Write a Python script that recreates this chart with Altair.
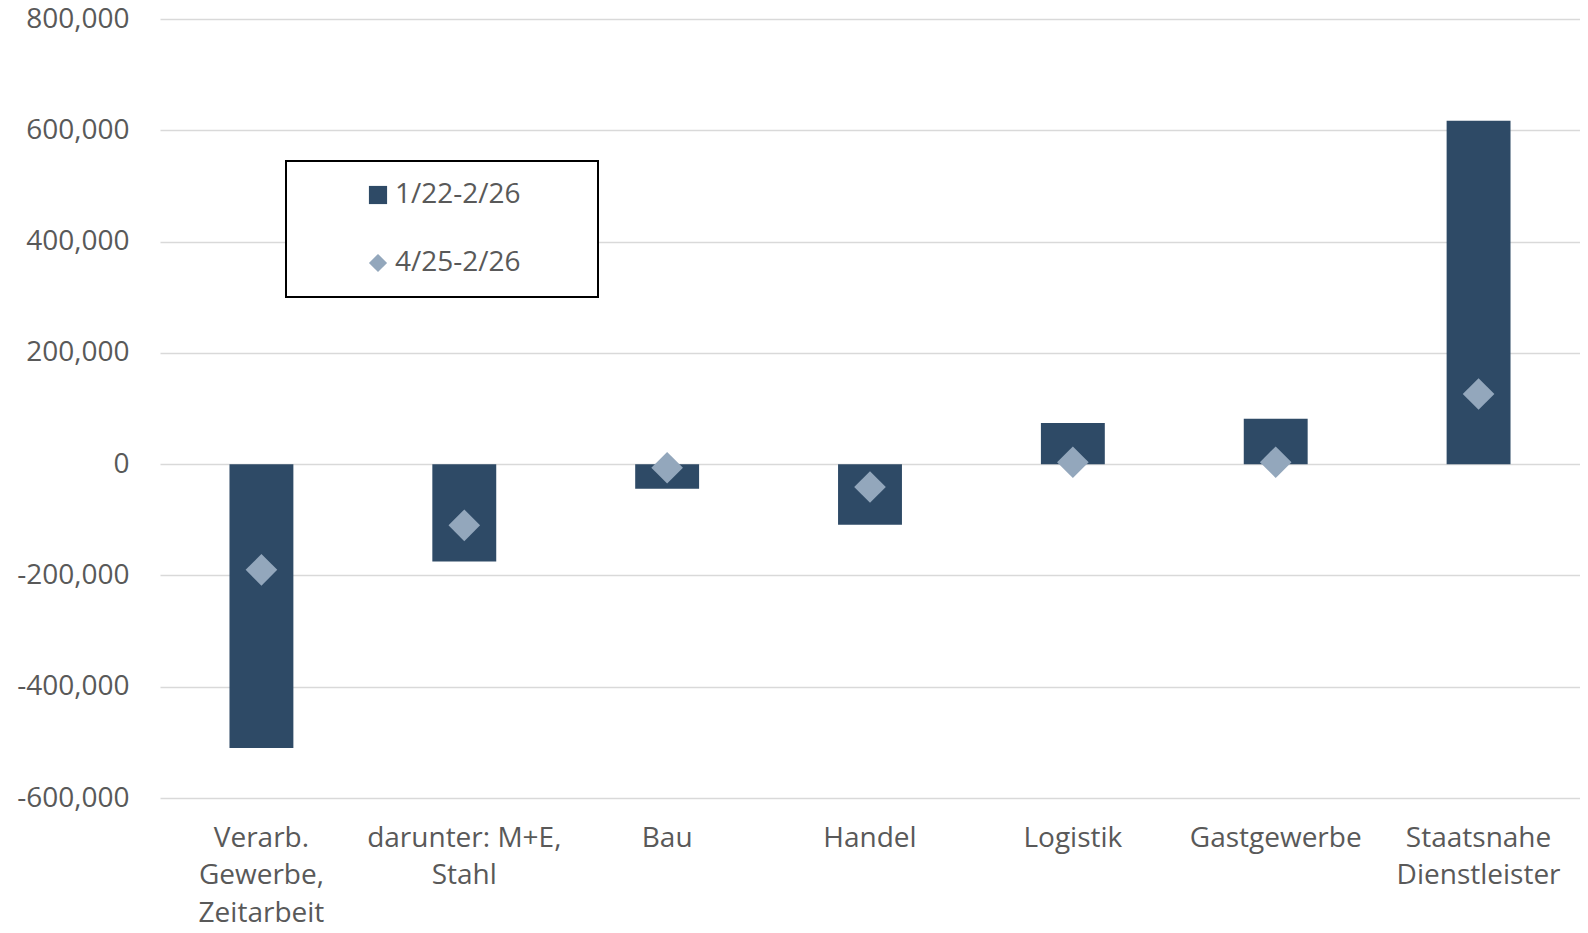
import altair as alt
import pandas as pd

categories = ["Verarb.|Gewerbe,|Zeitarbeit", "darunter: M+E,|Stahl", "Bau", "Handel",
              "Logistik", "Gastgewerbe", "Staatsnahe|Dienstleister"]
series_names = ["1/22-2/26", "4/25-2/26"]
long_term = [-510000, -175000, -44000, -109000, 74000, 81500, 617000]
recent = [-190000, -110000, -6500, -41000, 3500, 3500, 126000]
y_ticks = [-600000, -400000, -200000, 0, 200000, 400000, 600000, 800000]

dark = "#2E4A66"
light = "#93A7BC"
txt = "#595959"
font = "Open Sans"

df = pd.DataFrame({
    "category": categories * 2,
    "series": [series_names[0]] * len(categories) + [series_names[1]] * len(categories),
    "value": long_term + recent,
})

legend = alt.Legend(
    title="\u00a0", titleOrient="right", titlePadding=57, titleFontSize=1,
    orient="none", legendX=126, legendY=142,
    padding=20, strokeColor="black", fillColor="white",
    symbolSize=330, symbolOffset=58, labelOffset=3, rowPadding=40,
    labelFontSize=28, labelFont=font, labelColor=txt, labelLimit=400,
    symbolStrokeWidth=0,
)

x = alt.X("category:N", sort=categories,
          scale=alt.Scale(paddingInner=0.685, paddingOuter=0.3425),
          axis=alt.Axis(title=None, labelAngle=0, domain=False, ticks=False,
                        labelExpr="split(datum.label, '|')", labelFont=font,
                        labelFontSize=28, labelColor=txt, labelPadding=26, labelLimit=400,
                        labelLineHeight=37.5, labelBaseline="top", grid=False))
y = alt.Y("value:Q", scale=alt.Scale(domain=[-600000, 800000], nice=False),
          axis=alt.Axis(title=None, values=y_ticks, domain=False, ticks=False,
                        labelExpr="replace(format(datum.value, ','), '\u2212', '-')",
                        labelFont=font, labelFontSize=28, labelColor=txt, labelPadding=31,
                        grid=True, gridColor="#D9D9D9", gridWidth=1.5))
color = alt.Color("series:N", scale=alt.Scale(domain=series_names, range=[dark, light]),
                  legend=legend)

base = alt.Chart(df)
bars = base.transform_filter(alt.datum.series == series_names[0]).mark_bar().encode(
    x=x, y=y, color=color)
points = base.transform_filter(alt.datum.series == series_names[1]).mark_point(
    filled=True, size=1000, opacity=1).encode(
    x=x, y=y, color=color,
    shape=alt.Shape("series:N", scale=alt.Scale(domain=series_names, range=["square", "diamond"]),
                    legend=legend))

chart = alt.layer(bars, points).properties(
    width=1420, height=779,
    autosize=alt.AutoSizeParams(type="none"),
    padding={"left": 152, "top": 11, "right": 0, "bottom": 127},
).configure_view(stroke=None).configure_legend(strokeWidth=2)

chart.save("out.html", embed_options={"renderer": "svg", "actions": False})
